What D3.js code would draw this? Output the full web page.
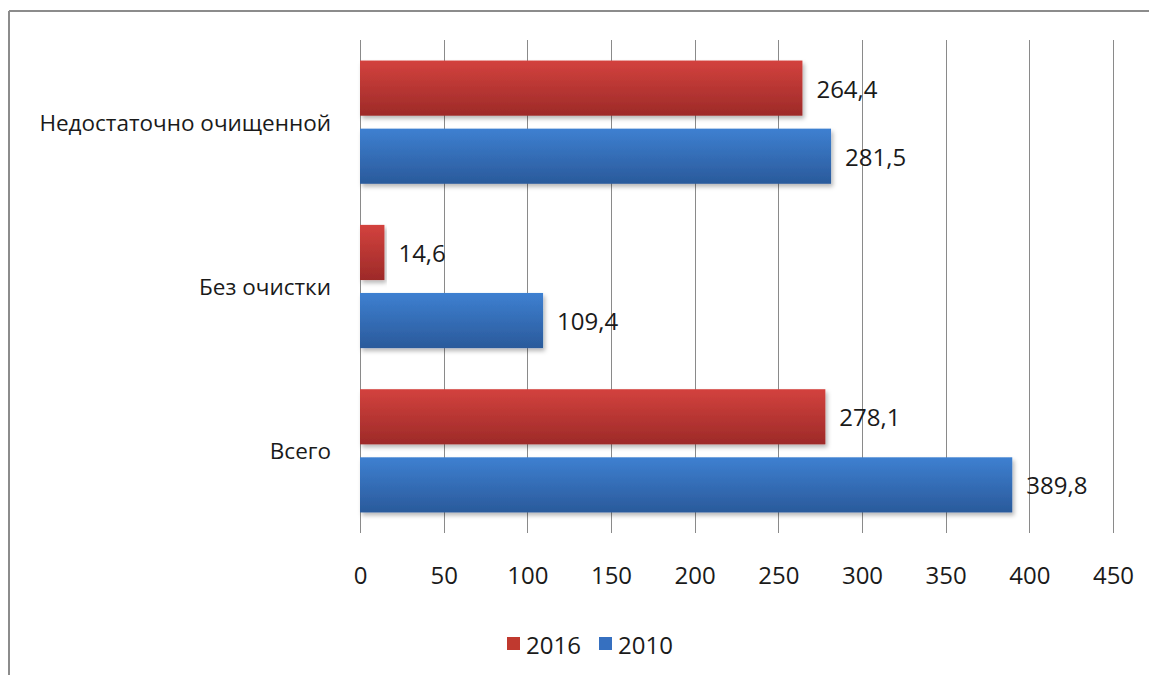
<!DOCTYPE html>
<html>
<head>
<meta charset="utf-8">
<script src="https://cdn.jsdelivr.net/npm/d3@7"></script>
<style>
  html, body { margin: 0; padding: 0; background: #fff; }
  svg text { font-family: "Open Sans", "Noto Sans", sans-serif; fill: #1a1a1a; }
</style>
</head>
<body>
<script>
// Chart data
const categories = ["Недостаточно очищенной", "Без очистки", "Всего"];
const seriesNames = ["2016", "2010"];
const values2016 = [264.4, 14.6, 278.1];
const values2010 = [281.5, 109.4, 389.8];
const xTicks = [0, 50, 100, 150, 200, 250, 300, 350, 400, 450];

const W = 1149, H = 675;
const margin = { left: 360, right: 36, top: 40, bottom: 142 };

const svg = d3.select("body").append("svg")
  .attr("width", W).attr("height", H);

const defs = svg.append("defs");
const palette = {
  "2016": { top: "#d3423e", bottom: "#9d2a28", legend: "#c0392f" },
  "2010": { top: "#3e80d1", bottom: "#2a5a9b", legend: "#3670c0" }
};
seriesNames.forEach(s => {
  const g = defs.append("linearGradient")
    .attr("id", "grad" + s).attr("x1", 0).attr("y1", 0).attr("x2", 0).attr("y2", 1);
  g.append("stop").attr("offset", "0%").attr("stop-color", palette[s].top);
  g.append("stop").attr("offset", "100%").attr("stop-color", palette[s].bottom);
});
const shadow = defs.append("filter").attr("id", "shadow")
  .attr("x", "-5%").attr("y", "-20%").attr("width", "115%").attr("height", "150%");
shadow.append("feDropShadow").attr("dx", 2).attr("dy", 3)
  .attr("stdDeviation", 2).attr("flood-color", "#000").attr("flood-opacity", 0.28);

// Outer frame (top and left edges visible)
svg.append("line").attr("x1", 9).attr("y1", 11).attr("x2", W).attr("y2", 11)
  .attr("stroke", "#8c8c8c").attr("stroke-width", 2);
svg.append("line").attr("x1", 9).attr("y1", 11).attr("x2", 9).attr("y2", H)
  .attr("stroke", "#8c8c8c").attr("stroke-width", 2);

const x = d3.scaleLinear().domain([0, 450]).range([margin.left, 1113]);
const y = d3.scaleBand().domain(categories).range([margin.top, 533])
  .paddingInner(0.25).paddingOuter(0.125);
const ySub = d3.scaleBand().domain(seriesNames).range([0, y.bandwidth()])
  .paddingInner(0.19).paddingOuter(0);

// Vertical gridlines
svg.append("g").selectAll("line").data(xTicks).join("line")
  .attr("x1", d => Math.round(x(d)) + 0.5).attr("x2", d => Math.round(x(d)) + 0.5)
  .attr("y1", margin.top).attr("y2", 533)
  .attr("stroke", "#8a8a8a").attr("stroke-width", 1);

// X axis tick labels
const xAxis = d3.axisBottom(x).tickValues(xTicks).tickSize(0).tickPadding(0)
  .tickFormat(d3.format("d"));
const gx = svg.append("g").attr("transform", "translate(0,565)").call(xAxis);
gx.select(".domain").remove();
gx.selectAll("text").attr("font-size", 24).attr("dy", "0.35em").attr("y", 11)
  .style("font-family", '"Open Sans", "Noto Sans", sans-serif').attr("fill", "#1a1a1a");

// Category labels
svg.append("g").selectAll("text").data(categories).join("text")
  .attr("x", 331).attr("y", d => y(d) + y.bandwidth() / 2)
  .attr("text-anchor", "end").attr("dominant-baseline", "central")
  .attr("font-size", 22.5).text(d => d);

const rows = [];
categories.forEach((c, i) => {
  rows.push({ cat: c, s: "2016", v: values2016[i] });
  rows.push({ cat: c, s: "2010", v: values2010[i] });
});

const fmt = v => d3.format(".1f")(v).replace(".", ",");

// Bars
svg.append("g").selectAll("rect").data(rows).join("rect")
  .attr("x", x(0))
  .attr("y", d => y(d.cat) + ySub(d.s))
  .attr("width", d => x(d.v) - x(0))
  .attr("height", ySub.bandwidth())
  .attr("fill", d => `url(#grad${d.s})`)
  .attr("filter", "url(#shadow)");

// Value labels
svg.append("g").selectAll("text").data(rows).join("text")
  .attr("x", d => x(d.v) + 14)
  .attr("y", d => y(d.cat) + ySub(d.s) + ySub.bandwidth() / 2)
  .attr("dominant-baseline", "central")
  .attr("font-size", 24).text(d => fmt(d.v));

// Legend
const legend = svg.append("g");
const legendX = [507, 599];
seriesNames.forEach((s, i) => {
  legend.append("rect").attr("x", legendX[i]).attr("y", 637)
    .attr("width", 13).attr("height", 13).attr("fill", palette[s].legend);
  legend.append("text").attr("x", legendX[i] + 19).attr("y", 644)
    .attr("dominant-baseline", "central").attr("font-size", 24).text(s);
});
</script>
</body>
</html>
